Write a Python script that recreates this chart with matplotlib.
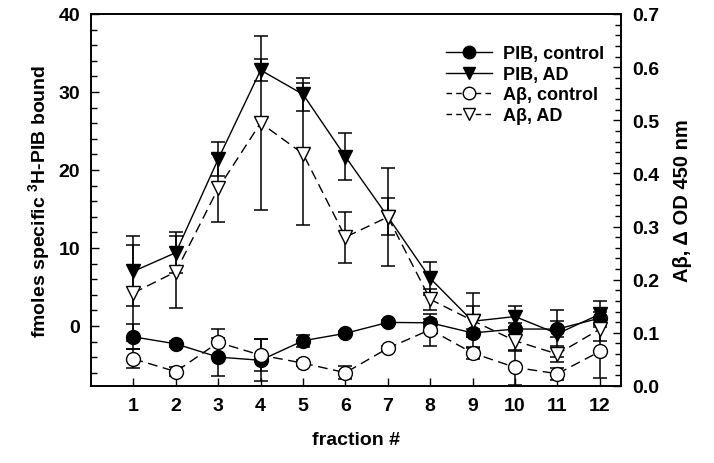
import numpy as np
import matplotlib
matplotlib.use("Agg")
import matplotlib.pyplot as plt
from matplotlib.ticker import MultipleLocator, FormatStrFormatter
from matplotlib.lines import Line2D

plt.rcParams['font.family'] = ['Liberation Sans', 'DejaVu Sans']
plt.rcParams['font.weight'] = 'bold'
plt.rcParams['mathtext.fontset'] = 'custom'
plt.rcParams['mathtext.bf'] = 'Liberation Sans:bold'
plt.rcParams['mathtext.rm'] = 'Liberation Sans:bold'

# fractions
fraction = [1, 2, 3, 4, 5, 6, 7, 8, 9, 10, 11, 12]

# PIB binding (left axis, fmoles)
pib_control = [-1.4, -2.3, -4.0, -4.4, -1.9, -0.95, 0.45, 0.4, -0.9, -0.4, -0.4, 1.0]
pib_control_err = [1.6, 0.4, 2.4, 2.7, 0.8, 0.3, 0.3, 0.5, 0.5, 0.8, 1.0, 0.8]
pib_ad = [7.0, 9.4, 21.4, 32.8, 29.7, 21.7, 14.0, 6.1, 0.6, 1.2, -1.0, 1.5]
pib_ad_err = [4.5, 2.6, 2.2, 1.4, 2.1, 3.0, 2.4, 2.1, 2.0, 1.4, 3.0, 1.7]

# Abeta ELISA (right axis, OD 450)
ab_control = [0.051, 0.027, 0.082, 0.058, 0.043, 0.025, 0.071, 0.106, 0.062, 0.035, 0.023, 0.065]
ab_control_err = [0.018, 0.008, 0.025, 0.030, 0.006, 0.012, 0.005, 0.030, 0.011, 0.033, 0.011, 0.050]
ab_ad = [0.175, 0.215, 0.372, 0.495, 0.437, 0.280, 0.318, 0.163, 0.123, 0.085, 0.060, 0.107]
ab_ad_err = [0.090, 0.068, 0.064, 0.164, 0.134, 0.048, 0.092, 0.020, 0.052, 0.020, 0.015, 0.022]

labels = ['PIB, control', 'PIB, AD', 'A\u03b2, control', 'A\u03b2, AD']

fig = plt.figure(figsize=(7.14, 4.64), dpi=100)
ax = fig.add_axes([0.1275, 0.166, 0.7423, 0.8017])
ax2 = ax.twinx()

ekw = dict(color='black', ecolor='black', elinewidth=1.1, capsize=5, capthick=1.1, lw=1.0, ms=10)
dash = (0, (7, 4))

ax.errorbar(fraction, pib_control, yerr=pib_control_err, marker='o', mfc='black', mec='black', **ekw)
ax.errorbar(fraction, pib_ad, yerr=pib_ad_err, marker='v', mfc='black', mec='black', **ekw)
ax2.errorbar(fraction, ab_control, yerr=ab_control_err, marker='o', mfc='white', mec='black', ls=dash, **ekw)
ax2.errorbar(fraction, ab_ad, yerr=ab_ad_err, marker='v', mfc='white', mec='black', ls=dash, **ekw)

ax.set_xlim(0, 12.5)
ax.set_ylim(-7.7, 40)
ax2.set_ylim(0, 0.7)

ax.set_xticks(fraction)
ax.yaxis.set_major_locator(MultipleLocator(10))
ax.yaxis.set_minor_locator(MultipleLocator(2))
ax2.yaxis.set_major_locator(MultipleLocator(0.1))
ax2.yaxis.set_minor_locator(MultipleLocator(0.02))
ax2.yaxis.set_major_formatter(FormatStrFormatter('%.1f'))

ax.tick_params(axis='both', which='both', direction='in', labelsize=14, width=1)
ax.tick_params(axis='both', which='major', length=6, pad=8)
ax.tick_params(axis='y', which='minor', length=4)
ax.tick_params(axis='y', which='both', right=False)
ax2.tick_params(axis='y', which='both', direction='in', labelsize=14, width=1)
ax2.tick_params(axis='y', which='major', length=6, pad=8)
ax2.tick_params(axis='y', which='minor', length=4)

for a in (ax, ax2):
    for s in a.spines.values():
        s.set_linewidth(1.2)

ax.set_xlabel('fraction #', fontsize=14, fontweight='bold', labelpad=12)
ax.set_ylabel(r'fmoles specific $^{\mathbf{3}}$H-PIB bound', fontsize=14, fontweight='bold', labelpad=4)
ax2.set_ylabel('A\u03b2, \u0394 OD 450 nm', fontsize=14.5, fontweight='bold', labelpad=10)

handles = [
    Line2D([], [], color='black', lw=1.0, marker='o', mfc='black', mec='black', ms=9),
    Line2D([], [], color='black', lw=1.0, marker='v', mfc='black', mec='black', ms=9),
    Line2D([], [], color='black', lw=1.0, ls=(0, (4, 3)), marker='o', mfc='white', mec='black', ms=9),
    Line2D([], [], color='black', lw=1.0, ls=(0, (4, 3)), marker='v', mfc='white', mec='black', ms=9),
]
ax.legend(handles, labels, loc='upper left', bbox_to_anchor=(0.645, 0.95),
          frameon=False, fontsize=13, handlelength=2.6, handletextpad=0.6,
          labelspacing=0.2, borderpad=0.2)

fig.savefig('out.png', dpi=100)
